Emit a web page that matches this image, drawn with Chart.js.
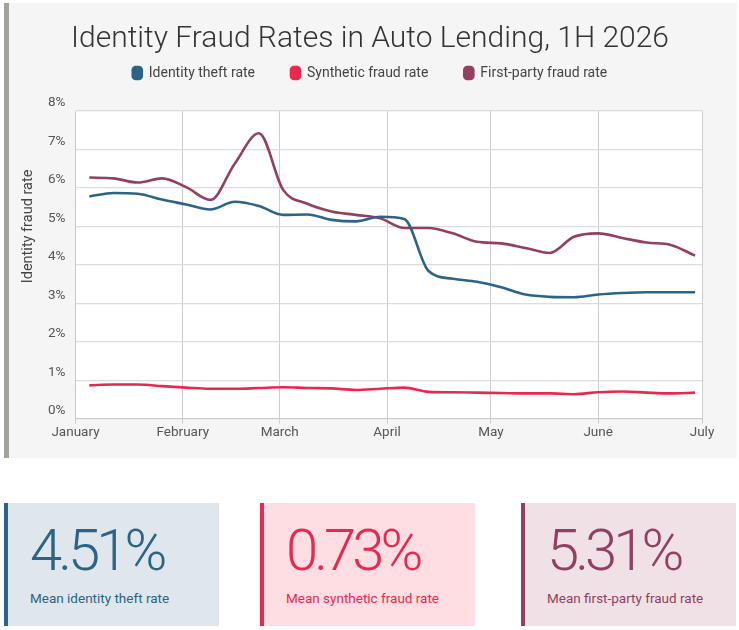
<!DOCTYPE html>
<html>
<head>
<meta charset="utf-8">
<title>Identity Fraud Rates in Auto Lending, 1H 2026</title>
<script src="https://cdn.jsdelivr.net/npm/chart.js@4/dist/chart.umd.min.js"></script>
<style>
  html, body { margin: 0; padding: 0; background: #fff; font-family: Roboto, "Noto Sans", sans-serif; }
  body { width: 739px; height: 630px; position: relative; overflow: hidden; }
  #panel { position: absolute; left: 4px; top: 3px; width: 728px; height: 455px;
           background: #f5f5f5; border-left: 5px solid #a2a29c; }
  #chartBox { position: absolute; left: 0; top: 0; width: 728px; height: 455px; }
  .card { position: absolute; top: 503px; height: 123px; width: 211px; border-left: 4px solid; }
  .card .num { position: absolute; left: 22px; top: 18px; font-weight: 300; font-size: 58px; line-height: 1; letter-spacing: -4px; }
  .card .lbl { position: absolute; left: 22px; top: 87px; font-size: 13.5px; line-height: 16px; }
</style>
</head>
<body>
<div id="panel"><div id="chartBox"><canvas id="fraudChart"></canvas></div></div>
<div id="cards"></div>

<script>
// --- Données ---
const weekStarts = [
  '2026-01-05', '2026-01-12', '2026-01-19', '2026-01-26',
  '2026-02-02', '2026-02-09', '2026-02-16', '2026-02-23',
  '2026-03-02', '2026-03-09', '2026-03-16', '2026-03-23', '2026-03-30',
  '2026-04-06', '2026-04-13', '2026-04-20', '2026-04-27',
  '2026-05-04', '2026-05-11', '2026-05-18', '2026-05-25',
  '2026-06-01', '2026-06-08', '2026-06-15', '2026-06-22', '2026-06-29'
];
const identityTheft = [
  5.78, 5.87, 5.85, 5.70, 5.57, 5.44, 5.64, 5.53, 5.30, 5.31, 5.17, 5.13, 5.25,
  5.19, 3.84, 3.64, 3.56, 3.42, 3.23, 3.17, 3.16, 3.23, 3.27, 3.29, 3.29, 3.29
];
const syntheticFraud = [
  0.87, 0.89, 0.89, 0.85, 0.81, 0.78, 0.78, 0.80, 0.82, 0.80, 0.79, 0.75, 0.78,
  0.81, 0.70, 0.69, 0.68, 0.67, 0.66, 0.66, 0.64, 0.69, 0.71, 0.68, 0.66, 0.68
];
const firstPartyFraud = [
  6.27, 6.25, 6.14, 6.25, 6.02, 5.69, 6.63, 7.42, 5.95, 5.59, 5.39, 5.30, 5.21,
  4.96, 4.96, 4.82, 4.60, 4.56, 4.44, 4.31, 4.73, 4.82, 4.70, 4.58, 4.52, 4.24
];
const monthStarts = ['2026-01-01', '2026-02-01', '2026-03-01', '2026-04-01', '2026-05-01', '2026-06-01', '2026-07-01'];
const monthLabels = ['January', 'February', 'March', 'April', 'May', 'June', 'July'];
const yTicks = [0, 1, 2, 3, 4, 5, 6, 7, 8];

const seriesNames = ['Identity theft rate', 'Synthetic fraud rate', 'First-party fraud rate'];
const seriesColors = ['#2b6486', '#e8294f', '#923f63'];
const cardBackgrounds = ['#dfe7ed', '#fedde3', '#efe1e6'];
const meanLabels = ['Mean identity theft rate', 'Mean synthetic fraud rate', 'Mean first-party fraud rate'];
const meanValues = ['4.51%', '0.73%', '5.31%'];

// jours depuis le 1er janvier (échelle linéaire, pas d'adaptateur de dates)
const dayOf = s => (Date.parse(s + 'T00:00:00Z') - Date.parse('2026-01-01T00:00:00Z')) / 86400000;
const xDays = weekStarts.map(dayOf);
const monthDays = monthStarts.map(dayOf);

const toPoints = values => values.map((v, i) => ({ x: xDays[i], y: v }));

// --- Plugins ---
const plotBackground = {
  id: 'plotBackground',
  beforeDraw(chart) {
    const { ctx, chartArea: a } = chart;
    ctx.save();
    ctx.fillStyle = '#ffffff';
    ctx.fillRect(a.left, a.top, a.right - a.left, a.bottom - a.top);
    ctx.restore();
  }
};

const yAxisTitle = {
  id: 'yAxisTitle',
  afterDraw(chart) {
    const { ctx, chartArea: a } = chart;
    ctx.save();
    ctx.translate(19, a.top + (a.bottom - a.top) * 0.375);
    ctx.rotate(-Math.PI / 2);
    ctx.font = '400 14.5px Roboto';
    ctx.fillStyle = '#444';
    ctx.textAlign = 'center';
    ctx.textBaseline = 'middle';
    ctx.fillText('Identity fraud rate', 0, 0);
    ctx.restore();
  }
};

const datasets = [identityTheft, syntheticFraud, firstPartyFraud].map((values, i) => ({
  label: seriesNames[i],
  data: toPoints(values),
  borderColor: seriesColors[i],
  backgroundColor: seriesColors[i],
  borderWidth: 2.6,
  pointRadius: 0,
  cubicInterpolationMode: 'monotone',
  fill: false
}));

new Chart(document.getElementById('fraudChart'), {
  type: 'line',
  data: { datasets },
  options: {
    responsive: true,
    maintainAspectRatio: false,
    animation: false,
    layout: { padding: { left: 29, right: 35, top: 0, bottom: 16 } },
    plugins: {
      title: {
        display: true,
        text: 'Identity Fraud Rates in Auto Lending, 1H 2026',
        color: '#333',
        font: { family: 'Roboto', size: 30, weight: '300' },
        padding: { top: 18, bottom: -27 }
      },
      // espaceur entre la légende et la zone de tracé
      subtitle: {
        display: true,
        text: ' ',
        weight: 500,
        font: { size: 10 },
        padding: { top: 0, bottom: 9 }
      },
      legend: {
        display: true,
        labels: {
          boxWidth: 9,
          boxHeight: 12,
          useBorderRadius: true,
          borderRadius: 3,
          padding: 36,
          color: '#444',
          font: { family: 'Roboto', size: 14 }
        }
      },
      tooltip: { enabled: false }
    },
    scales: {
      x: {
        type: 'linear',
        min: monthDays[0],
        max: monthDays[monthDays.length - 1],
        afterBuildTicks: scale => { scale.ticks = monthDays.map(v => ({ value: v })); },
        ticks: {
          callback: v => monthLabels[monthDays.indexOf(v)],
          color: '#555',
          font: { family: 'Roboto', size: 13.5 },
          maxRotation: 0,
          autoSkip: false,
          padding: 1
        },
        grid: { color: '#cccccc', lineWidth: 1, tickLength: 5 },
        border: { color: '#c8c8c8' }
      },
      y: {
        min: 0,
        max: 8,
        afterBuildTicks: scale => { scale.ticks = yTicks.map(v => ({ value: v })); },
        ticks: {
          callback: v => v + '%',
          color: '#555',
          font: { family: 'Roboto', size: 13.5 },
          labelOffset: -8,
          padding: 10
        },
        grid: { color: '#dcdcdc', lineWidth: 1.3, drawTicks: false },
        border: { color: '#c8c8c8' }
      }
    }
  },
  plugins: [plotBackground, yAxisTitle]
});

// --- Cartes des moyennes ---
const cardLefts = [4, 260, 521];
const cardsEl = document.getElementById('cards');
cardsEl.innerHTML = meanValues.map((v, i) => `
  <div class="card" style="left:${cardLefts[i]}px;border-color:${seriesColors[i]};background:${cardBackgrounds[i]};color:${seriesColors[i]}">
    <div class="num">${v}</div>
    <div class="lbl">${meanLabels[i]}</div>
  </div>`).join('');
</script>
</body>
</html>
